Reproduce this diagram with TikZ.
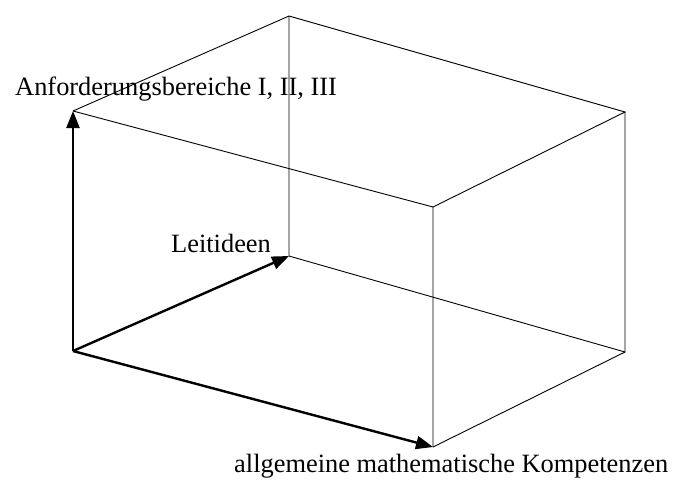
\documentclass[tikz,border=0pt]{standalone}
\usepackage{fontspec}
\setmainfont{Liberation Serif}
\usetikzlibrary{arrows.meta}
\begin{document}
\begin{tikzpicture}[x=1pt,y=-1pt,
  edge/.style={line width=0.9pt,black},
  axis/.style={line width=2.4pt,black,-{Triangle[length=17pt,width=13pt]}},
  lbl/.style={anchor=base west,inner sep=0pt,font=\fontsize{26.4}{30}\selectfont}]
\useasboundingbox (0,0) rectangle (690,480);
% corners
\coordinate (O) at (73,351);
\coordinate (A) at (73,111);
\coordinate (FBR) at (433,447);
\coordinate (FTR) at (433,207);
\coordinate (BB) at (289,256);
\coordinate (BT) at (289,16);
\coordinate (BRB) at (625,352);
\coordinate (BRT) at (625,112);
% thin edges
\draw[edge] (A) -- (FTR) -- (FBR);
\draw[edge] (A) -- (BT) -- (BRT) -- (FTR);
\draw[edge] (BT) -- (BB) -- (BRB) -- (BRT);
\draw[edge] (FBR) -- (BRB);
% axes
\draw[axis] (O) -- (A);
\draw[axis] (O) -- (BB);
\draw[axis] (O) -- (FBR);
% labels
\node[lbl] (la) at (15,95) {Anforderungsbereiche I, II, III};
\node[lbl] (ll) at (171,252) {Leitideen};
\node[lbl] (lk) at (234,472) {allgemeine mathematische Kompetenzen};
\end{tikzpicture}
\end{document}
